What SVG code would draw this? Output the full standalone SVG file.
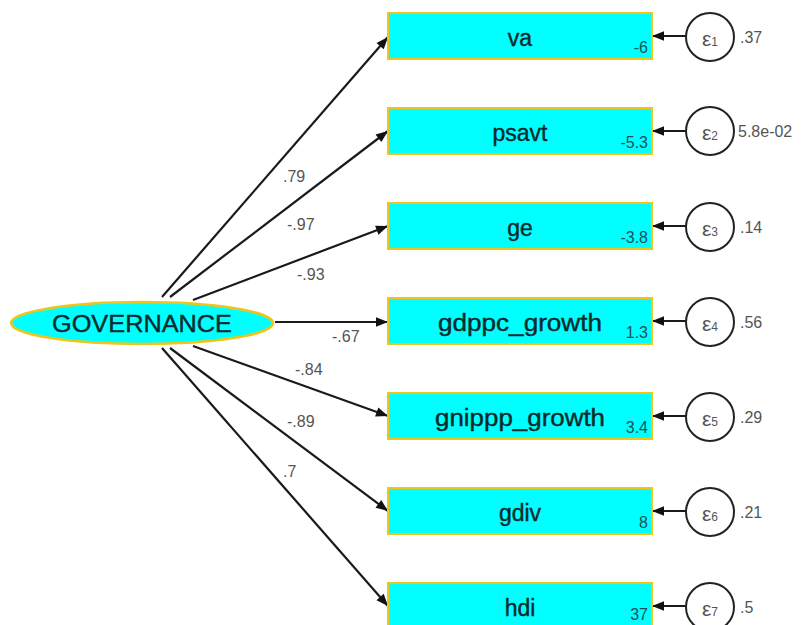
<svg xmlns="http://www.w3.org/2000/svg" width="803" height="625" viewBox="0 0 803 625">
  <defs>
    <marker id="arrowBig" viewBox="0 0 10 10" refX="10" refY="5" markerWidth="16" markerHeight="12" markerUnits="userSpaceOnUse" orient="auto">
      <path d="M0,1 L10,5 L0,9 Z" fill="#111"/>
    </marker>
  </defs>
  <style>
    .obs { fill: #00ffff; stroke: #f2c418; stroke-width: 2; }
    .lat { fill: #00ffff; stroke: #f2c418; stroke-width: 2.5; }
    .err { fill: #ffffff; stroke: #222; stroke-width: 2; }
    .path { stroke: #1a1a1a; stroke-width: 2.2; fill: none; marker-end: url(#arrowBig); }
    .name { font-family: "Liberation Sans", Arial, sans-serif; font-size: 23px; fill: #0a2a2c; stroke: #0a2a2c; stroke-width: 0.4; text-anchor: middle; }
    .lname { font-family: "Liberation Sans", Arial, sans-serif; font-size: 23px; fill: #0a2a2c; stroke: #0a2a2c; stroke-width: 0.4; text-anchor: middle; }
    .icpt { font-family: "Liberation Sans", Arial, sans-serif; font-size: 16px; fill: #1c5058; text-anchor: end; }
    .coef { font-family: "Liberation Sans", Arial, sans-serif; font-size: 16px; fill: #555; }
    .eps { font-family: "Liberation Sans", Arial, sans-serif; font-size: 21px; fill: #555; text-anchor: middle; }
    .sub { font-size: 12px; }
  </style>

  <!-- structural paths and error paths -->
  <g id="connectors">
    <line class="path" x1="162" y1="297" x2="388" y2="37"/>
    <line class="path" x1="170" y1="297" x2="388" y2="131"/>
    <line class="path" x1="193" y1="300" x2="388" y2="226"/>
    <line class="path" x1="275" y1="322" x2="388" y2="322"/>
    <line class="path" x1="193" y1="346" x2="388" y2="416"/>
    <line class="path" x1="170" y1="348" x2="388" y2="511"/>
    <line class="path" x1="162" y1="348" x2="388" y2="606"/>

    <line class="path" x1="686" y1="36" x2="652" y2="36"/>
    <line class="path" x1="686" y1="131" x2="652" y2="131"/>
    <line class="path" x1="686" y1="226" x2="652" y2="226"/>
    <line class="path" x1="686" y1="321" x2="652" y2="321"/>
    <line class="path" x1="686" y1="416" x2="652" y2="416"/>
    <line class="path" x1="686" y1="511" x2="652" y2="511"/>
    <line class="path" x1="686" y1="606" x2="652" y2="606"/>

    <text class="coef" x="283" y="182">.79</text>
    <text class="coef" x="287" y="230">-.97</text>
    <text class="coef" x="297" y="280">-.93</text>
    <text class="coef" x="332" y="342">-.67</text>
    <text class="coef" x="295" y="375">-.84</text>
    <text class="coef" x="287" y="427">-.89</text>
    <text class="coef" x="283" y="477">.7</text>
  </g>

  <!-- latent variable -->
  <g id="governance">
    <ellipse class="lat" cx="142" cy="323" rx="131" ry="21"/>
    <text class="lname" x="142" y="332" textLength="180" lengthAdjust="spacingAndGlyphs">GOVERNANCE</text>
  </g>

  <!-- observed indicators -->
  <g id="va">
    <rect class="obs" x="388" y="13" width="264" height="46"/>
    <text class="name" x="520" y="46">va</text>
    <text class="icpt" x="648" y="53">-6</text>
  </g>
  <g id="psavt">
    <rect class="obs" x="388" y="108" width="264" height="46"/>
    <text class="name" x="520" y="141">psavt</text>
    <text class="icpt" x="648" y="148">-5.3</text>
  </g>
  <g id="ge">
    <rect class="obs" x="388" y="203" width="264" height="46"/>
    <text class="name" x="520" y="236">ge</text>
    <text class="icpt" x="648" y="243">-3.8</text>
  </g>
  <g id="gdppc_growth">
    <rect class="obs" x="388" y="298" width="264" height="46"/>
    <text class="name" x="520" y="331" textLength="164" lengthAdjust="spacingAndGlyphs">gdppc_growth</text>
    <text class="icpt" x="648" y="338">1.3</text>
  </g>
  <g id="gnippp_growth">
    <rect class="obs" x="388" y="393" width="264" height="46"/>
    <text class="name" x="520" y="426" textLength="170" lengthAdjust="spacingAndGlyphs">gnippp_growth</text>
    <text class="icpt" x="648" y="433">3.4</text>
  </g>
  <g id="gdiv">
    <rect class="obs" x="388" y="488" width="264" height="46"/>
    <text class="name" x="520" y="521">gdiv</text>
    <text class="icpt" x="648" y="528">8</text>
  </g>
  <g id="hdi">
    <rect class="obs" x="388" y="583" width="264" height="46"/>
    <text class="name" x="520" y="616">hdi</text>
    <text class="icpt" x="648" y="620">37</text>
  </g>

  <!-- error terms -->
  <g id="e1">
    <circle class="err" cx="710" cy="37" r="24"/>
    <text class="eps" x="710" y="46">ε<tspan class="sub">1</tspan></text>
    <text class="coef" x="740" y="43">.37</text>
  </g>
  <g id="e2">
    <circle class="err" cx="710" cy="131" r="24"/>
    <text class="eps" x="710" y="140">ε<tspan class="sub">2</tspan></text>
    <text class="coef" x="738" y="137">5.8e-02</text>
  </g>
  <g id="e3">
    <circle class="err" cx="710" cy="227" r="24"/>
    <text class="eps" x="710" y="236">ε<tspan class="sub">3</tspan></text>
    <text class="coef" x="740" y="233">.14</text>
  </g>
  <g id="e4">
    <circle class="err" cx="710" cy="322" r="24"/>
    <text class="eps" x="710" y="331">ε<tspan class="sub">4</tspan></text>
    <text class="coef" x="740" y="328">.56</text>
  </g>
  <g id="e5">
    <circle class="err" cx="710" cy="417" r="24"/>
    <text class="eps" x="710" y="426">ε<tspan class="sub">5</tspan></text>
    <text class="coef" x="740" y="423">.29</text>
  </g>
  <g id="e6">
    <circle class="err" cx="710" cy="512" r="24"/>
    <text class="eps" x="710" y="521">ε<tspan class="sub">6</tspan></text>
    <text class="coef" x="740" y="518">.21</text>
  </g>
  <g id="e7">
    <circle class="err" cx="710" cy="607" r="24"/>
    <text class="eps" x="710" y="616">ε<tspan class="sub">7</tspan></text>
    <text class="coef" x="740" y="613">.5</text>
  </g>
</svg>
